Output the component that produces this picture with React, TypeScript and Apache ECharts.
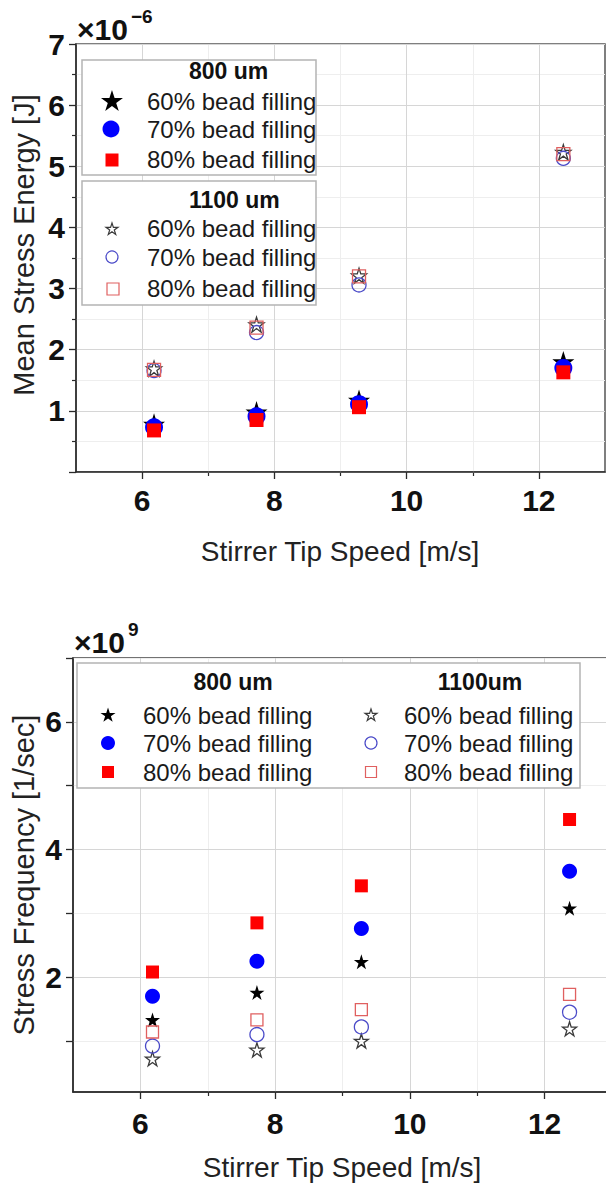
import React, { useEffect, useRef } from "react";
import * as echarts from "echarts";

const STAR_D =
  "M50 0L61.23 34.55L97.55 34.55L68.17 55.9L79.39 90.45L50 69.1L20.61 90.45L31.83 55.9L2.45 34.55L38.77 34.55Z";
const STAR_SYMBOL = "path://" + STAR_D;
echarts.graphic.registerShape("star5", echarts.graphic.extendPath(STAR_D, {}));

// Stirrer tip speed [m/s]
const tipSpeed = [6.18, 7.73, 9.28, 12.37];

// Mean stress energy [×1e-6 J]
const energy800_60 = [0.78, 0.98, 1.17, 1.8];
const energy800_70 = [0.73, 0.91, 1.11, 1.7];
const energy800_80 = [0.68, 0.85, 1.06, 1.63];
const energy1100_60 = [1.69, 2.41, 3.21, 5.23];
const energy1100_70 = [1.66, 2.28, 3.06, 5.13];
const energy1100_80 = [1.67, 2.36, 3.2, 5.2];

// Stress frequency [×1e9 1/sec]
const freq800_60 = [1.33, 1.76, 2.24, 3.08];
const freq800_70 = [1.7, 2.25, 2.76, 3.66];
const freq800_80 = [2.08, 2.85, 3.43, 4.47];
const freq1100_60 = [0.72, 0.86, 1.0, 1.19];
const freq1100_70 = [0.92, 1.1, 1.22, 1.45];
const freq1100_80 = [1.14, 1.33, 1.49, 1.73];

const xMajorTicks = [6, 8, 10, 12];
const xMinorTicks = [7, 9, 11];
const freqMajorTicks = [2, 4, 6];
const freqMinorTicks = [1, 3, 5, 7];
const fillingLabels = ["60% bead filling", "70% bead filling", "80% bead filling"];
const group800 = "800 um";
const group1100Top = "1100 um";
const group1100Bottom = "1100um";
const xTitle = "Stirrer Tip Speed [m/s]";
const yTitleTop = "Mean Stress Energy [J]";
const yTitleBottom = "Stress Frequency [1/sec]";

const FONT = "'Liberation Sans', Arial, Helvetica, sans-serif";
const BLACK = "#000000";
const BLUE = "#0000ff";
const RED = "#ff0000";
const OPEN_STAR = "#3a3a3a";
const OPEN_CIRCLE = "#4a4ac8";
const OPEN_SQUARE = "#e06060";
const AXIS = "#2a2a2a";
const GRID_MAJOR = "#d6d6d6";
const GRID_MINOR = "#eeeeee";

function pts(ys: number[]) {
  return tipSpeed.map((x, i) => [x, ys[i]]);
}

function scatter(
  name: string,
  data: number[],
  xi: number,
  yi: number,
  symbol: string,
  size: number,
  filled: boolean,
  color: string
) {
  return {
    type: "scatter",
    name,
    data: pts(data),
    xAxisIndex: xi,
    yAxisIndex: yi,
    symbol,
    symbolSize: size,
    itemStyle: filled
      ? { color, borderWidth: 0, opacity: 1 }
      : { color: "rgba(0,0,0,0)", borderColor: color, borderWidth: 1.3, opacity: 1 },
    emphasis: { disabled: true },
    silent: true,
  };
}

const labelFont = { fontFamily: FONT, fontWeight: "bold", fontSize: 30, color: "#111" };

function xMain(gridIndex: number, margin: number) {
  return {
    type: "value",
    gridIndex,
    min: 5,
    max: 13,
    position: "bottom",
    axisLine: { show: true, onZero: false, lineStyle: { color: AXIS, width: 1.5 } },
    axisTick: { show: true, inside: false, length: 7, customValues: xMajorTicks, lineStyle: { color: AXIS, width: 1.3 } },
    axisLabel: { show: true, customValues: xMajorTicks, margin, ...labelFont },
    splitLine: { show: true, lineStyle: { color: GRID_MAJOR, width: 1 } },
    z: 2,
  };
}
function xMinor(gridIndex: number) {
  return {
    type: "value",
    gridIndex,
    min: 5,
    max: 13,
    position: "bottom",
    axisLine: { show: false, onZero: false },
    axisTick: { show: true, inside: false, length: 4, customValues: xMinorTicks, lineStyle: { color: AXIS, width: 1.2 } },
    axisLabel: { show: false },
    splitLine: { show: true, lineStyle: { color: GRID_MINOR, width: 1 } },
    z: 1,
  };
}

function buildGraphics() {
  const g: any[] = [];
  const legendFont = { fontFamily: FONT, fontSize: 24, fill: "#1a1a1a" };
  const titleFont = { fontFamily: FONT, fontSize: 23, fontWeight: "bold", fill: "#111" };
  const text = (x: number, y: number, t: string, st: any, align = "left", extra: any = {}) => ({
    type: "text",
    x,
    y,
    z: 100,
    ...extra,
    style: { text: t, ...st, textAlign: align, textVerticalAlign: "middle" },
  });
  const star = (cx: number, cy: number, size: number, filled: boolean, color: string) => {
    const s = size / 95.1;
    return {
      type: "star5",
      x: cx - 50 * s,
      y: cy - 47.5 * s,
      scaleX: s,
      scaleY: s,
      z: 101,
      style: filled
        ? { fill: color, stroke: "none" }
        : { fill: "rgba(0,0,0,0)", stroke: color, lineWidth: 1.2 / s },
    };
  };
  const circ = (cx: number, cy: number, r: number, filled: boolean, color: string) => ({
    type: "circle",
    z: 101,
    shape: { cx, cy, r },
    style: filled ? { fill: color } : { fill: "rgba(0,0,0,0)", stroke: color, lineWidth: 1.2 },
  });
  const sq = (cx: number, cy: number, size: number, filled: boolean, color: string) => ({
    type: "rect",
    z: 101,
    shape: { x: cx - size / 2, y: cy - size / 2, width: size, height: size },
    style: filled ? { fill: color } : { fill: "rgba(0,0,0,0)", stroke: color, lineWidth: 1.2 },
  });
  const box = (x: number, y: number, w: number, h: number) => ({
    type: "rect",
    z: 99,
    shape: { x, y, width: w, height: h },
    style: { fill: "#ffffff", stroke: "#b4b4b4", lineWidth: 1.5 },
  });

  // ---- top plot legend ----
  g.push(box(82, 60, 234, 115));
  g.push(box(82, 181, 234, 124));
  g.push(text(189, 71, group800, titleFont));
  g.push(star(112, 101, 22, true, BLACK));
  g.push(circ(111, 129, 8.5, true, BLUE));
  g.push(sq(112, 160, 13, true, RED));
  g.push(text(147, 101, fillingLabels[0], legendFont));
  g.push(text(147, 129, fillingLabels[1], legendFont));
  g.push(text(147, 159, fillingLabels[2], legendFont));
  g.push(text(189, 200, group1100Top, titleFont));
  g.push(star(112, 229, 12, false, OPEN_STAR));
  g.push(circ(112, 257, 6, false, OPEN_CIRCLE));
  g.push(sq(113, 289, 12, false, OPEN_SQUARE));
  g.push(text(147, 228, fillingLabels[0], legendFont));
  g.push(text(147, 257, fillingLabels[1], legendFont));
  g.push(text(147, 288, fillingLabels[2], legendFont));

  // ---- bottom plot legend ----
  g.push(box(77, 663, 503, 125));
  g.push(text(233, 682, group800, titleFont, "center"));
  g.push(text(480, 682, group1100Bottom, titleFont, "center"));
  g.push(star(108, 715, 15, true, BLACK));
  g.push(circ(108, 743, 7, true, BLUE));
  g.push(sq(108, 772, 12, true, RED));
  g.push(text(143, 715, fillingLabels[0], legendFont));
  g.push(text(143, 743, fillingLabels[1], legendFont));
  g.push(text(143, 772, fillingLabels[2], legendFont));
  g.push(star(371, 715, 12, false, OPEN_STAR));
  g.push(circ(371, 743, 6, false, OPEN_CIRCLE));
  g.push(sq(371, 772, 11, false, OPEN_SQUARE));
  g.push(text(404, 715, fillingLabels[0], legendFont));
  g.push(text(404, 743, fillingLabels[1], legendFont));
  g.push(text(404, 772, fillingLabels[2], legendFont));

  // ---- exponent labels ----
  const expBig = { fontFamily: FONT, fontSize: 30, fontWeight: "bold", fill: "#111" };
  const expSmall = { fontFamily: FONT, fontSize: 19, fontWeight: "bold", fill: "#111" };
  g.push(text(77, 29, "×10", expBig));
  g.push(text(131, 16, "−6", expSmall));
  g.push(text(74, 642, "×10", expBig));
  g.push(text(128, 629, "9", expSmall));

  // ---- axis titles ----
  const titleStyle = { fontFamily: FONT, fontSize: 28, fill: "#222" };
  const yTitleStyle = { fontFamily: FONT, fontSize: 29, fill: "#222" };
  g.push(text(340, 551, xTitle, titleStyle, "center"));
  g.push(text(342, 1167, xTitle, titleStyle, "center"));
  g.push(text(24, 245, yTitleTop, yTitleStyle, "center", { rotation: Math.PI / 2 }));
  g.push(text(24, 875, yTitleBottom, yTitleStyle, "center", { rotation: Math.PI / 2 }));
  return g;
}

function buildOption() {
  return {
    animation: false,
    backgroundColor: "#ffffff",
    tooltip: { show: false },
    grid: [
      { left: 76, top: 44, width: 529, height: 428, show: true, borderColor: "#555", borderWidth: 1.5, containLabel: false, outerBoundsMode: "none" },
      { left: 73, top: 658, width: 539, height: 434, show: true, borderColor: "#444", borderWidth: 1.5, containLabel: false, outerBoundsMode: "none" },
    ],
    xAxis: [xMain(0, 13), xMinor(0), xMain(1, 16), xMinor(1)],
    yAxis: [
      {
        type: "value",
        gridIndex: 0,
        min: 0,
        max: 7,
        interval: 1,
        position: "left",
        axisLine: { show: true, onZero: false, lineStyle: { color: AXIS, width: 1.5 } },
        axisTick: { show: true, inside: false, length: 7, lineStyle: { color: AXIS, width: 1.3 } },
        minorTick: { show: true, splitNumber: 2, length: 4, lineStyle: { color: AXIS, width: 1.2 } },
        axisLabel: {
          margin: 11,
          ...labelFont,
          formatter: (v: number) => (v === 0 ? "" : String(v)),
        },
        splitLine: { show: true, lineStyle: { color: GRID_MAJOR, width: 1 } },
        minorSplitLine: { show: true, lineStyle: { color: GRID_MINOR, width: 1 } },
        z: 2,
      },
      {
        type: "value",
        gridIndex: 1,
        min: 0.2,
        max: 7,
        position: "left",
        axisLine: { show: true, onZero: false, lineStyle: { color: AXIS, width: 1.5 } },
        axisTick: { show: true, inside: false, length: 7, customValues: freqMajorTicks, lineStyle: { color: AXIS, width: 1.3 } },
        axisLabel: { customValues: freqMajorTicks, margin: 11, ...labelFont },
        splitLine: { show: true, lineStyle: { color: GRID_MAJOR, width: 1 } },
        z: 2,
      },
      {
        type: "value",
        gridIndex: 1,
        min: 0.2,
        max: 7,
        position: "left",
        axisLine: { show: false, onZero: false },
        axisTick: { show: true, inside: false, length: 7, customValues: freqMinorTicks, lineStyle: { color: AXIS, width: 1.3 } },
        axisLabel: { show: false },
        splitLine: { show: true, lineStyle: { color: GRID_MINOR, width: 1 } },
        z: 1,
      },
    ],
    series: [
      scatter("800 um 60%", energy800_60, 0, 0, STAR_SYMBOL, 22, true, BLACK),
      scatter("800 um 70%", energy800_70, 0, 0, "circle", 18, true, BLUE),
      scatter("800 um 80%", energy800_80, 0, 0, "rect", 14, true, RED),
      scatter("1100 um 60%", energy1100_60, 0, 0, STAR_SYMBOL, 15, false, OPEN_STAR),
      scatter("1100 um 70%", energy1100_70, 0, 0, "circle", 14, false, OPEN_CIRCLE),
      scatter("1100 um 80%", energy1100_80, 0, 0, "rect", 13, false, OPEN_SQUARE),
      scatter("800 um 60% f", freq800_60, 2, 1, STAR_SYMBOL, 15, true, BLACK),
      scatter("800 um 70% f", freq800_70, 2, 1, "circle", 15, true, BLUE),
      scatter("800 um 80% f", freq800_80, 2, 1, "rect", 13, true, RED),
      scatter("1100 um 60% f", freq1100_60, 2, 1, STAR_SYMBOL, 14, false, OPEN_STAR),
      scatter("1100 um 70% f", freq1100_70, 2, 1, "circle", 14, false, OPEN_CIRCLE),
      scatter("1100 um 80% f", freq1100_80, 2, 1, "rect", 12, false, OPEN_SQUARE),
    ],
    graphic: { elements: buildGraphics() },
  };
}

export default function App() {
  const ref = useRef<HTMLDivElement | null>(null);
  useEffect(() => {
    if (!ref.current) return;
    const chart = echarts.init(ref.current, undefined, { renderer: "svg" });
    chart.setOption(buildOption() as any);
    return () => chart.dispose();
  }, []);
  return (
    <div
      ref={ref}
      style={{ position: "absolute", left: 0, top: 0, width: 606, height: 1187, background: "#fff" }}
    />
  );
}
